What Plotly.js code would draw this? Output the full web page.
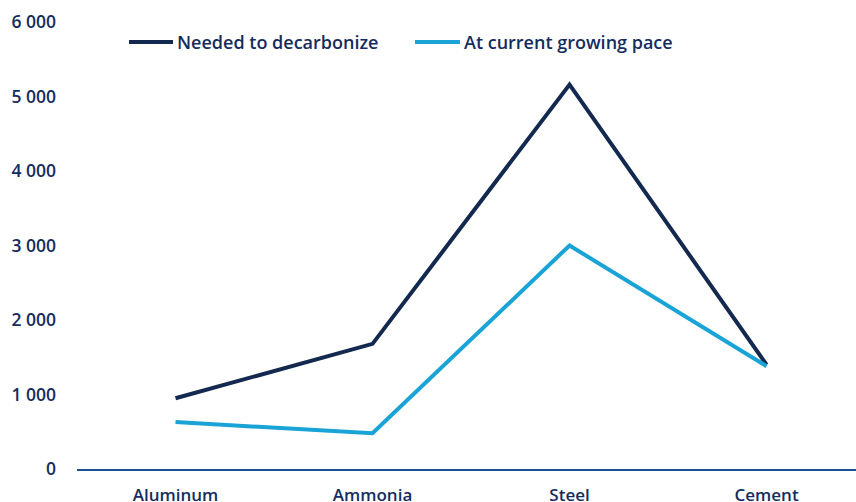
<!DOCTYPE html>
<html>
<head>
<meta charset="utf-8">
<script src="https://cdn.plot.ly/plotly-3.0.1.min.js"></script>
<style>
  html, body { margin: 0; padding: 0; background: #ffffff; }
  #chart { width: 856px; height: 502px; }
</style>
</head>
<body>
<div id="chart"></div>
<script>
// Sectors on the horizontal axis
const sectors = ['Aluminum', 'Ammonia', 'Steel', 'Cement'];

// Series values per sector
const neededToDecarbonize = [950, 1680, 5160, 1400];
const atCurrentGrowingPace = [630, 480, 3000, 1380];

// Series names
const seriesNames = ['Needed to decarbonize', 'At current growing pace'];

// Y-axis ticks
const yTickValues = [0, 1000, 2000, 3000, 4000, 5000, 6000];
const yTickLabels = ['0', '1 000', '2 000', '3 000', '4 000', '5 000', '6 000'];

const navy = '#13294f';
const sky = '#19a3d6';
const textColor = '#142d5e';
const fontFamily = '"Open Sans", Lato, sans-serif';

const traces = [
  {
    x: sectors, y: neededToDecarbonize, name: seriesNames[0],
    type: 'scatter', mode: 'lines',
    line: { color: navy, width: 4 },
    showlegend: false, hoverinfo: 'skip'
  },
  {
    x: sectors, y: atCurrentGrowingPace, name: seriesNames[1],
    type: 'scatter', mode: 'lines',
    line: { color: sky, width: 4 },
    showlegend: false, hoverinfo: 'skip'
  }
];

// Legend drawn as short line swatches plus labels above the plot
const legendY = 0.955;
const legendFont = { family: fontFamily, size: 18, color: textColor, weight: 600 };
const layout = {
  width: 856, height: 502,
  margin: { l: 77, r: 0, t: 22, b: 33, pad: 0 },
  paper_bgcolor: '#ffffff', plot_bgcolor: '#ffffff',
  font: { family: fontFamily, color: textColor, size: 16 },
  xaxis: {
    type: 'category',
    categoryorder: 'array', categoryarray: sectors,
    range: [-0.5, 3.454],
    showgrid: false, zeroline: false,
    showline: true, linecolor: '#1d4f94', linewidth: 2,
    ticks: '', ticklabelstandoff: 10,
    tickfont: { family: fontFamily, size: 17, color: textColor, weight: 600 }
  },
  yaxis: {
    range: [0, 6000],
    tickvals: yTickValues, ticktext: yTickLabels,
    showgrid: false, zeroline: false, showline: false,
    ticks: '', ticklabelstandoff: 20,
    tickfont: { family: fontFamily, size: 17.5, color: textColor, weight: 600 }
  },
  shapes: [
    { type: 'line', xref: 'paper', yref: 'paper',
      x0: (129 - 77) / 779, x1: (173 - 77) / 779, y0: legendY, y1: legendY,
      line: { color: navy, width: 4 } },
    { type: 'line', xref: 'paper', yref: 'paper',
      x0: (415 - 77) / 779, x1: (460 - 77) / 779, y0: legendY, y1: legendY,
      line: { color: sky, width: 4 } }
  ],
  annotations: [
    { xref: 'paper', yref: 'paper', x: (175 - 77) / 779, y: legendY,
      xanchor: 'left', yanchor: 'middle', showarrow: false,
      text: seriesNames[0], font: legendFont },
    { xref: 'paper', yref: 'paper', x: (462 - 77) / 779, y: legendY,
      xanchor: 'left', yanchor: 'middle', showarrow: false,
      text: seriesNames[1], font: legendFont }
  ]
};

Plotly.newPlot('chart', traces, layout, { displayModeBar: false, staticPlot: true });
</script>
</body>
</html>
